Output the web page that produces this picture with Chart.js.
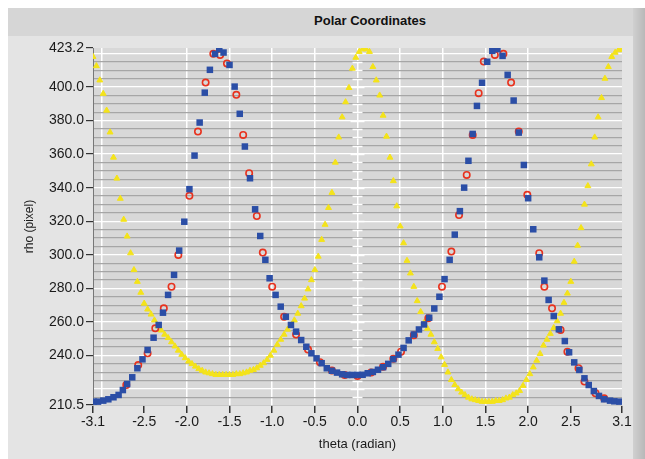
<!DOCTYPE html>
<html>
<head>
<meta charset="utf-8">
<title>Polar Coordinates</title>
<script src="https://cdn.jsdelivr.net/npm/chart.js@4.4.1/dist/chart.umd.min.js"></script>
<style>
  body { margin: 0; background: #ffffff; width: 645px; height: 459px; overflow: hidden; position: relative; }
  #panel { position: absolute; left: 8px; top: 8px; width: 637px; height: 451px; background: #e4e4e4; }
  #titlebar { position: absolute; left: 8px; top: 8px; width: 625px; height: 28px; background: #d6d6d6; }
  #title { position: absolute; left: 270px; top: 13px; width: 200px; text-align: center;
           font: bold 13px "Liberation Sans", Arial, sans-serif; color: #111; }
  #edge { position: absolute; left: 633px; top: 8px; width: 12px; height: 451px;
          background: linear-gradient(to right, #d0d0d0, #b8b8b8); }
  #chart { position: absolute; left: 0; top: 0; }
</style>
</head>
<body>
<div id="panel"></div>
<div id="titlebar"></div>
<div id="edge"></div>
<div id="title">Polar Coordinates</div>
<canvas id="chart" width="645" height="459"></canvas>
<script>
//theta values (radian) and rho values (pixel)

//yellow curve
const yellowTheta = [-3.10,-3.06,-3.02,-2.98,-2.94,-2.90,-2.86,-2.82,-2.78,-2.74,
  -2.70,-2.66,-2.62,-2.58,-2.54,-2.50,-2.46,-2.42,-2.38,-2.34,
  -2.30,-2.26,-2.22,-2.18,-2.14,-2.10,-2.06,-2.02,-1.98,-1.94,
  -1.90,-1.86,-1.82,-1.78,-1.74,-1.70,-1.66,-1.62,-1.58,-1.54,
  -1.50,-1.46,-1.42,-1.38,-1.34,-1.30,-1.26,-1.22,-1.18,-1.14,
  -1.10,-1.06,-1.02,-0.98,-0.94,-0.90,-0.86,-0.82,-0.78,-0.74,
  -0.70,-0.66,-0.62,-0.58,-0.54,-0.50,-0.46,-0.42,-0.38,-0.34,
  -0.30,-0.26,-0.22,-0.18,-0.14,-0.10,-0.06,-0.02,0.02,0.06,
  0.10,0.14,0.18,0.22,0.26,0.30,0.34,0.38,0.42,0.46,
  0.50,0.54,0.58,0.62,0.66,0.70,0.74,0.78,0.82,0.86,
  0.90,0.94,0.98,1.02,1.06,1.10,1.14,1.18,1.22,1.26,
  1.30,1.34,1.38,1.42,1.46,1.50,1.54,1.58,1.62,1.66,
  1.70,1.74,1.78,1.82,1.86,1.90,1.94,1.98,2.02,2.06,
  2.10,2.14,2.18,2.22,2.26,2.30,2.34,2.38,2.42,2.46,
  2.50,2.54,2.58,2.62,2.66,2.70,2.74,2.78,2.82,2.86,
  2.90,2.94,2.98,3.02,3.06,3.10];
const yellowRho = [418,412.5,404,396,386,373,358,345.5,333.5,321,
  311,301,291,284,277.5,271,267.5,264.5,261,257.5,
  255,252.5,250.5,248,245.5,243,240.5,238.5,236.5,235,
  233.5,232,231,230,229.5,229,228.5,228.5,228.5,228.5,
  228.5,228.5,229,229,229.5,230,231,231.5,232.5,234,
  235.5,237.5,240,243,246.5,249.5,252.5,255.5,258,261,
  265,269.5,274,279.5,285,291,299,309,318,328,
  337,355,370,382,391,399.5,411,417.5,421,422.5,
  422.5,421,412,404,395,383,370.5,358,344,329,
  317,307,296.5,289,281,272.5,266,259.5,256,252.5,
  248,244,239,234.5,230,225.5,222.5,220,218,216.5,
  215,214,213.5,213,212.5,212.5,212.5,212.5,213,213,
  213.5,214.5,215,216.5,217.5,219,222,225.5,229,233,
  237,241,246,249.5,253,256.5,260.5,265,271.5,277,
  284,296,305.5,316,330,341,354,370,382,393.5,
  405,412,418,420.5,422,422.5];

//blue squares
const blueTheta = [-3.09,-3.04,-2.98,-2.92,-2.86,-2.80,-2.75,-2.70,-2.64,-2.58,
  -2.52,-2.46,-2.39,-2.33,-2.28,-2.22,-2.15,-2.09,-2.03,-1.97,
  -1.91,-1.85,-1.79,-1.73,-1.67,-1.62,-1.57,-1.50,-1.44,-1.38,
  -1.32,-1.26,-1.20,-1.14,-1.08,-1.03,-0.96,-0.90,-0.84,-0.78,
  -0.72,-0.66,-0.60,-0.54,-0.48,-0.42,-0.36,-0.30,-0.24,-0.18,
  -0.12,-0.06,0.00,0.06,0.12,0.18,0.24,0.30,0.36,0.42,
  0.48,0.54,0.60,0.66,0.72,0.78,0.84,0.90,0.96,1.02,
  1.08,1.14,1.20,1.25,1.30,1.35,1.40,1.46,1.52,1.58,
  1.64,1.70,1.76,1.83,1.89,1.95,2.00,2.06,2.13,2.19,
  2.24,2.30,2.36,2.43,2.48,2.54,2.60,2.66,2.71,2.77,
  2.83,2.89,2.96,3.01,3.07];
const blueRho = [212.5,212.5,213.1,213.9,215.1,216.5,219.4,223.0,227.0,232.4,
  237.7,243.3,250.6,258.2,265.5,276.1,288.0,302.5,319.7,339.1,
  359.1,378.8,396.6,410.2,419.7,422.5,420.5,413.1,400.2,384.0,
  364.5,345.6,327.1,311.2,297.0,286.0,276.1,269.1,263.1,258.2,
  254.2,249.2,245.2,241.3,238.3,235.4,232.4,230.9,229.8,228.8,
  228.4,228.4,228.4,228.5,229.4,230.2,231.5,233.0,235.0,237.8,
  240.5,244.5,249.0,252.5,255.5,258.5,262.5,268.0,275.0,285.5,
  297.0,312.0,326.0,340.0,356.0,372.0,388.7,402.5,415.0,421.5,
  422.5,418.5,407.2,391.9,372.8,353.5,333.7,315.2,298.5,284.6,
  273.1,263.5,255.6,248.6,241.9,235.9,231.4,226.4,222.4,218.8,
  215.9,213.9,213.1,212.7,212.5];

//red circles
const redTheta = [-2.71,-2.57,-2.46,-2.37,-2.27,-2.18,-2.10,-1.97,-1.87,-1.78,
  -1.69,-1.61,-1.53,-1.42,-1.34,-1.27,-1.18,-1.11,-1.00,-0.86,
  -0.72,-0.58,-0.44,-0.30,-0.15,0.00,0.16,0.30,0.42,0.51,
  0.66,0.83,0.99,1.10,1.19,1.28,1.35,1.42,1.48,1.61,
  1.71,1.80,1.89,1.99,2.13,2.19,2.28,2.38,2.46,2.59,
  2.66,2.79,2.89];
const redRho = [222.4,234.3,241.3,256.2,268.1,281.0,299.9,335.1,373.4,402.6,
  419.7,419.1,414.0,395.3,371.4,348.6,323.1,301.3,281.0,263.1,
  252.5,243.5,236.0,231.0,228.4,227.8,229.8,233.3,238.0,242.3,
  252.0,262.2,281.0,301.9,323.7,347.6,371.4,396.3,415.1,419.1,
  419.7,402.6,373.4,335.7,300.9,281.0,268.1,255.2,242.3,232.4,
  224.5,217.5,214.5];

//axis ticks
const xTicks = [-3.1,-3.0,-2.5,-2.0,-1.5,-1.0,-0.5,0.0,0.5,1.0,1.5,2.0,2.5,3.1];
const xGridTicks = [-3.0,-2.0,-1.5,-1.0,-0.5,0.0,0.5,1.0,1.5,2.0];
const yLabelTicks = [210.5,240,260,280,300,320,340,360,380,400,423.2];
const yMin = 210.5, yMax = 423.2;

//minor y lines every 5
const yTicks = [210.5];
for (let v = 215; v <= 420; v += 5) yTicks.push(v);
yTicks.push(423.2);

function toPoints(xs, ys){
  return xs.map((x, i) => ({x: x, y: ys[i]}));
}

const tickFont = {family: '"Liberation Sans", Arial, sans-serif', size: 14};

//grey plot background
const plotBackground = {
  id: 'plotBackground',
  beforeDraw(chart){
    const {ctx, chartArea} = chart;
    ctx.save();
    ctx.fillStyle = '#d8d8d8';
    ctx.fillRect(chartArea.left, chartArea.top, chartArea.width, chartArea.height);
    ctx.restore();
  }
};

//small white marks along theta = 0
const centerMarks = {
  id: 'centerMarks',
  beforeDatasetsDraw(chart){
    const {ctx} = chart;
    const xs = chart.scales.x, ys = chart.scales.y;
    const x0 = xs.getPixelForValue(0);
    ctx.save();
    ctx.strokeStyle = '#ffffff';
    ctx.lineWidth = 1.5;
    yTicks.forEach(v => {
      if (v <= yMin || v >= yMax) return;
      const y = Math.round(ys.getPixelForValue(v)) + 0.5;
      const w = v % 20 == 0 ? 7 : 5;
      ctx.beginPath();
      ctx.moveTo(x0 - w, y);
      ctx.lineTo(x0 + w, y);
      ctx.stroke();
    });
    ctx.restore();
  }
};

new Chart(document.getElementById('chart'), {
  type: 'scatter',
  data: {
    datasets: [
      {
        label: 'blue',
        data: toPoints(blueTheta, blueRho),
        pointStyle: 'rect',
        pointRadius: 4.6,
        backgroundColor: '#2b4ea6',
        borderColor: '#2b4ea6',
        borderWidth: 0
      },
      {
        label: 'red',
        data: toPoints(redTheta, redRho),
        pointStyle: 'circle',
        pointRadius: 3.2,
        backgroundColor: 'rgba(0,0,0,0)',
        borderColor: '#e8321e',
        borderWidth: 1.6
      },
      {
        label: 'yellow',
        data: toPoints(yellowTheta, yellowRho),
        pointStyle: 'triangle',
        pointRadius: 3.4,
        backgroundColor: '#f4e31a',
        borderColor: '#f4e31a',
        borderWidth: 1
      }
    ]
  },
  options: {
    responsive: false,
    animation: false,
    layout: {padding: {left: 0, right: 23, top: 48, bottom: 0}},
    plugins: {legend: {display: false}, tooltip: {enabled: false}},
    scales: {
      x: {
        type: 'linear',
        min: -3.1,
        max: 3.1,
        afterBuildTicks: s => { s.ticks = xTicks.map(v => ({value: v})); },
        afterFit: s => { s.height = 54; },
        ticks: {
          autoSkip: false,
          maxRotation: 0,
          padding: 1,
          color: '#1a1a1a',
          font: tickFont,
          callback: v => (v == -3.0 ? '' : v.toFixed(1))
        },
        grid: {
          color: c => (c.tick && xGridTicks.includes(c.tick.value) ? '#ffffff' : 'rgba(0,0,0,0)'),
          tickColor: c => (c.tick && c.tick.value != -3.0 ? '#333333' : 'rgba(0,0,0,0)'),
          tickLength: 8,
          lineWidth: 1.5
        },
        border: {display: true, color: '#c8c8c8'},
        title: {
          display: true,
          text: 'theta (radian)',
          color: '#1a1a1a',
          font: {family: '"Liberation Sans", Arial, sans-serif', size: 13},
          padding: {top: 0, bottom: 7}
        }
      },
      y: {
        type: 'linear',
        min: yMin,
        max: yMax,
        afterBuildTicks: s => { s.ticks = yTicks.map(v => ({value: v})); },
        afterFit: s => { s.width = 93; },
        ticks: {
          autoSkip: false,
          padding: 2,
          color: '#1a1a1a',
          font: tickFont,
          callback: v => (yLabelTicks.includes(v) ? v.toFixed(1) : '')
        },
        grid: {
          color: c => {
            const v = c.tick ? c.tick.value : 0;
            if (v <= yMin || v >= yMax) return 'rgba(0,0,0,0)';
            return v % 20 == 0 ? '#ffffff' : '#a6a6a6';
          },
          tickColor: c => (c.tick && yLabelTicks.includes(c.tick.value) ? '#333333' : 'rgba(0,0,0,0)'),
          tickLength: 7,
          lineWidth: 1.2
        },
        border: {display: true, color: '#777777'},
        title: {
          display: true,
          text: 'rho (pixel)',
          color: '#1a1a1a',
          font: {family: '"Liberation Sans", Arial, sans-serif', size: 12},
          padding: {top: 22, bottom: 0}
        }
      }
    }
  },
  plugins: [plotBackground, centerMarks]
});
</script>
</body>
</html>
